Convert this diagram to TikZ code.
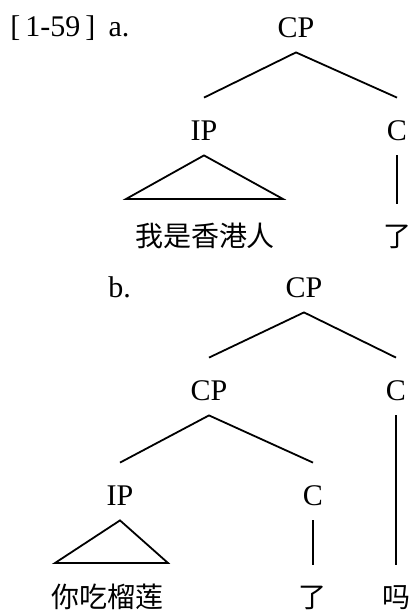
\documentclass[tikz,border=0pt]{standalone}
\usepackage{fontspec}
\setmainfont{Liberation Serif}
\newfontfamily\cjk{Noto Sans CJK SC}
\usepackage{tikz}
\usetikzlibrary{positioning}

\begin{document}
\begin{tikzpicture}[x=0.5pt, y=-0.5pt]
    \tikzstyle{cat} = [anchor=base, inner sep=0pt, text height=21pt, text depth=7.5pt, font=\fontsize{15}{18}\selectfont]
    \tikzstyle{leaf} = [cat, font=\fontsize{14}{17}\selectfont\cjk]
    \tikzstyle{branch} = [line width=0.9pt]
    \useasboundingbox (0,0) rectangle (414,612);

    % tree a
    \node (laba) [cat, anchor=base west] at (10,36) {[\,1-59\,]\;\,a.};
    \node (cpa) [cat] at (296,37) {CP};
    \node (ipa) [cat] at (204,140) {IP};
    \node (ca) [cat] at (397,140) {C};
    \node (wsh) [leaf] at (205,246) {我是香港人};
    \node (lea) [leaf] at (397,246) {了};
    \coordinate (tria1) at (126,199);
    \coordinate (tria2) at (283,199);

    \draw [branch] (ipa.north) -- (cpa.south) -- (ca.north);
    \draw [branch] (ca.south) -- (lea.north);
    \draw [branch] (ipa.south) -- (tria1) -- (tria2) -- cycle;

    % tree b
    \node (labb) [cat, anchor=base west] at (108,297) {b.};
    \node (cpb) [cat] at (304,297) {CP};
    \node (cpc) [cat] at (209,400) {CP};
    \node (cb) [cat] at (396,400) {C};
    \node (ipb) [cat] at (120,505) {IP};
    \node (cc) [cat] at (313,505) {C};
    \node (nclb) [leaf] at (108,607) {你吃榴莲};
    \node (leb) [leaf] at (313,607) {了};
    \node (ma) [leaf] at (396,607) {吗};
    \coordinate (trib1) at (55,563);
    \coordinate (trib2) at (168,563);

    \draw [branch] (cpc.north) -- (cpb.south) -- (cb.north);
    \draw [branch] (ipb.north) -- (cpc.south) -- (cc.north);
    \draw [branch] (cb.south) -- (ma.north);
    \draw [branch] (cc.south) -- (leb.north);
    \draw [branch] (ipb.south) -- (trib1) -- (trib2) -- cycle;
\end{tikzpicture}
\end{document}
